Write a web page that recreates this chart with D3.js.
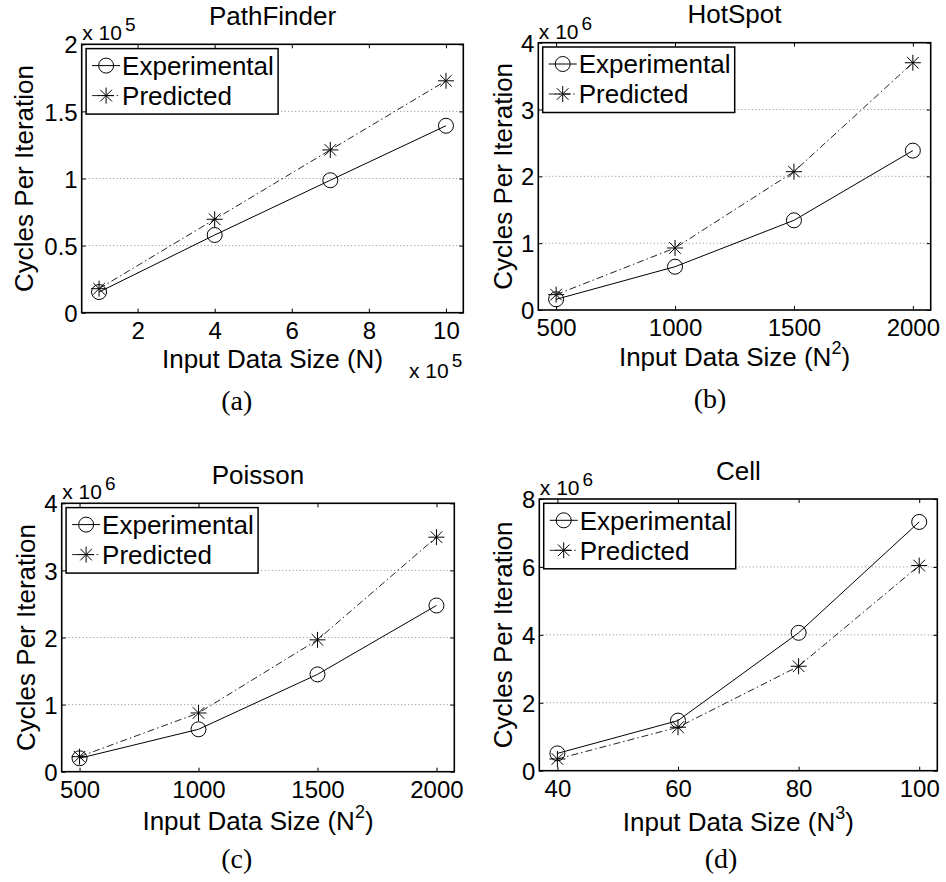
<!DOCTYPE html>
<html>
<head>
<meta charset="utf-8">
<script src="https://cdn.jsdelivr.net/npm/d3@7"></script>
<style>
  html, body { margin: 0; padding: 0; background: #fff; }
  svg { display: block; }
  text { font-family: "Liberation Sans", Arial, sans-serif; fill: #000; }
  .caption { font-family: "Liberation Serif", "Times New Roman", serif; }
</style>
</head>
<body>
<svg id="fig" width="946" height="882"></svg>
<script>
// ---- data: cycles per iteration vs. input size ----
const pathSizes = [1e5, 4e5, 7e5, 1e6];
const pathExperimental = [15400, 57900, 98700, 139300];
const pathPredicted = [17900, 69600, 121300, 172800];
const pathXTicks = [2e5, 4e5, 6e5, 8e5, 1e6];
const pathYTicks = [0, 5e4, 1e5, 1.5e5, 2e5];

const hotSizes = [500, 1000, 1500, 2000];
const hotExperimental = [160000, 648000, 1342000, 2385000];
const hotPredicted = [230000, 928000, 2070000, 3700000];
const hotXTicks = [500, 1000, 1500, 2000];
const hotYTicks = [0, 1e6, 2e6, 3e6, 4e6];

const poissonSizes = [500, 1000, 1500, 2000];
const poissonExperimental = [200000, 632000, 1450000, 2477000];
const poissonPredicted = [224000, 875000, 1965000, 3495000];
const poissonXTicks = [500, 1000, 1500, 2000];
const poissonYTicks = [0, 1e6, 2e6, 3e6, 4e6];

const cellSizes = [40, 60, 80, 100];
const cellExperimental = [510000, 1475000, 4060000, 7325000];
const cellPredicted = [345000, 1280000, 3075000, 6040000];
const cellXTicks = [40, 60, 80, 100];
const cellYTicks = [0, 2e6, 4e6, 6e6, 8e6];

const seriesNames = ["Experimental", "Predicted"];

// ---- panel table ----
const panels = [
  { title: "PathFinder", caption: "(a)", xlabel: "Input Data Size (N)", sup: null,
    x: pathSizes, exp: pathExperimental, pred: pathPredicted,
    xTicks: pathXTicks, yTicks: pathYTicks, yMax: 2e5, yPow: 5, xPow: 5,
    box: { left: 81.7, right: 463.3, top: 44.3, bottom: 312.7 }, ylabelGap: 48.7, xlabelGap: 55,
    captionPos: [236.7, 410] },
  { title: "HotSpot", caption: "(b)", xlabel: "Input Data Size (N", sup: "2",
    x: hotSizes, exp: hotExperimental, pred: hotPredicted,
    xTicks: hotXTicks, yTicks: hotYTicks, yMax: 4e6, yPow: 6, xPow: 0,
    box: { left: 538.3, right: 930.7, top: 42.7, bottom: 310 }, ylabelGap: 26.5, xlabelGap: 56,
    captionPos: [710, 408] },
  { title: "Poisson", caption: "(c)", xlabel: "Input Data Size (N", sup: "2",
    x: poissonSizes, exp: poissonExperimental, pred: poissonPredicted,
    xTicks: poissonXTicks, yTicks: poissonYTicks, yMax: 4e6, yPow: 6, xPow: 0,
    box: { left: 61.7, right: 454.3, top: 503.3, bottom: 771.7 }, ylabelGap: 26.5, xlabelGap: 58,
    captionPos: [236.7, 868] },
  { title: "Cell", caption: "(d)", xlabel: "Input Data Size (N", sup: "3",
    x: cellSizes, exp: cellExperimental, pred: cellPredicted,
    xTicks: cellXTicks, yTicks: cellYTicks, yMax: 8e6, yPow: 6, xPow: 0,
    box: { left: 539.3, right: 937.3, top: 499, bottom: 770.7 }, ylabelGap: 27, xlabelGap: 60,
    captionPos: [721, 868] }
];

const svg = d3.select("#fig");
const fmt = (v, p) => String(+(v / Math.pow(10, p)).toFixed(3));

// asterisk marker: plus + cross
const starPath = "M-8,0H8M0,-8V8M-5.8,-5.8L5.8,5.8M-5.8,5.8L5.8,-5.8";

function drawMarker(g, kind, cx, cy) {
  if (kind === 0) {
    g.append("circle").attr("cx", cx).attr("cy", cy).attr("r", 7.5)
      .attr("fill", "none").attr("stroke", "#000").attr("stroke-width", 1);
  } else {
    g.append("path").attr("d", starPath).attr("transform", `translate(${cx},${cy})`)
      .attr("fill", "none").attr("stroke", "#000").attr("stroke-width", 1);
  }
}

const lineStyles = [
  { color: "#000", dash: null },
  { color: "#222", dash: "7,3,1.5,3" }
];

const LABEL = 26, TICK = 24;

panels.forEach(p => {
  const b = p.box;
  const ext = d3.extent(p.x);
  const pad = (ext[1] - ext[0]) * 0.05;
  const x = d3.scaleLinear().domain([ext[0] - pad, ext[1] + pad]).range([b.left, b.right]);
  const y = d3.scaleLinear().domain([0, p.yMax]).range([b.bottom, b.top]);
  const g = svg.append("g");

  // horizontal dotted grid
  g.append("g").selectAll("line").data(p.yTicks.slice(1, -1)).join("line")
    .attr("x1", b.left).attr("x2", b.right)
    .attr("y1", d => y(d)).attr("y2", d => y(d))
    .attr("stroke", "#8c8c8c").attr("stroke-width", 1).attr("stroke-dasharray", "1,2.5");

  // axes with inward ticks on all four sides
  const tickLen = 4;
  const bottomAxis = d3.axisBottom(x).tickValues(p.xTicks).tickSize(-tickLen)
    .tickFormat(d => fmt(d, p.xPow));
  const topAxis = d3.axisTop(x).tickValues(p.xTicks).tickSize(-tickLen).tickFormat("");
  const leftAxis = d3.axisLeft(y).tickValues(p.yTicks).tickSize(-tickLen)
    .tickFormat(d => fmt(d, p.yPow));
  const rightAxis = d3.axisRight(y).tickValues(p.yTicks).tickSize(-tickLen).tickFormat("");

  const styleAxis = sel => {
    sel.select(".domain").remove();
    sel.selectAll(".tick line").attr("stroke", "#000").attr("stroke-width", 1);
    sel.selectAll(".tick text").attr("font-size", TICK)
      .attr("font-family", "Liberation Sans, Arial, sans-serif").attr("fill", "#000");
  };
  g.append("g").attr("transform", `translate(0,${b.bottom})`).call(bottomAxis).call(styleAxis)
    .selectAll(".tick text").attr("dy", null).attr("y", 26);
  g.append("g").attr("transform", `translate(0,${b.top})`).call(topAxis).call(styleAxis);
  g.append("g").attr("transform", `translate(${b.left},0)`).call(leftAxis).call(styleAxis)
    .selectAll(".tick text").attr("x", -4).attr("dy", "0.36em");
  g.append("g").attr("transform", `translate(${b.right},0)`).call(rightAxis).call(styleAxis);

  // box
  g.append("rect").attr("x", b.left).attr("y", b.top)
    .attr("width", b.right - b.left).attr("height", b.bottom - b.top)
    .attr("fill", "none").attr("stroke", "#000").attr("stroke-width", 1.6);

  // series lines and markers
  [p.exp, p.pred].forEach((vals, i) => {
    const pts = vals.map((v, k) => [x(p.x[k]), y(v)]);
    g.append("path").attr("d", d3.line()(pts)).attr("fill", "none")
      .attr("stroke", lineStyles[i].color).attr("stroke-width", 1)
      .attr("stroke-dasharray", lineStyles[i].dash);
    pts.forEach(pt => drawMarker(g, i, pt[0], pt[1]));
  });

  // legend
  const lx = b.left + 4.4, ly = b.top + 4.3;
  const lg = g.append("g");
  lg.append("rect").attr("x", lx).attr("y", ly).attr("width", 192).attr("height", 65.5)
    .attr("fill", "#fff").attr("stroke", "#000").attr("stroke-width", 1.5);
  seriesNames.forEach((name, i) => {
    const cy = ly + 17 + i * 30;
    lg.append("line").attr("x1", lx + 6).attr("x2", lx + 34).attr("y1", cy).attr("y2", cy)
      .attr("stroke", lineStyles[i].color).attr("stroke-width", 1)
      .attr("stroke-dasharray", lineStyles[i].dash);
    drawMarker(lg, i, lx + 20, cy);
    lg.append("text").attr("x", lx + 36).attr("y", cy + 9.3).attr("font-size", LABEL).text(name);
  });

  // title
  g.append("text").attr("x", (b.left + b.right) / 2).attr("y", b.top - 19.5)
    .attr("text-anchor", "middle").attr("font-size", LABEL).text(p.title);

  // y exponent
  const ye = g.append("text").attr("x", b.left + 0.5).attr("y", b.top - 4).attr("font-size", 21);
  ye.append("tspan").text("x 10");
  ye.append("tspan").attr("dy", -9).attr("dx", 3).attr("font-size", 19).text(p.yPow);

  // x exponent (bottom right)
  if (p.xPow) {
    const xe = g.append("text").attr("x", b.right - 1).attr("y", b.bottom + 65)
      .attr("text-anchor", "end").attr("font-size", 21);
    xe.append("tspan").text("x 10");
    xe.append("tspan").attr("dy", -11).attr("dx", 3).attr("font-size", 19).text(p.xPow);
  }

  // x label
  const xl = g.append("text").attr("x", (b.left + b.right) / 2).attr("y", b.bottom + p.xlabelGap)
    .attr("text-anchor", "middle").attr("font-size", LABEL);
  xl.append("tspan").text(p.xlabel);
  if (p.sup) {
    xl.append("tspan").attr("dy", -12).attr("font-size", 18).text(p.sup);
    xl.append("tspan").attr("dy", 12).text(")");
  }

  // y label
  const cyMid = (b.top + b.bottom) / 2;
  g.append("text").attr("transform", `translate(${b.left - p.ylabelGap},${cyMid}) rotate(-90)`)
    .attr("text-anchor", "middle").attr("font-size", LABEL).text("Cycles Per Iteration");

  // caption
  g.append("text").attr("class", "caption").attr("x", p.captionPos[0]).attr("y", p.captionPos[1])
    .attr("text-anchor", "middle").attr("font-size", 28).text(p.caption);
});
</script>
</body>
</html>
